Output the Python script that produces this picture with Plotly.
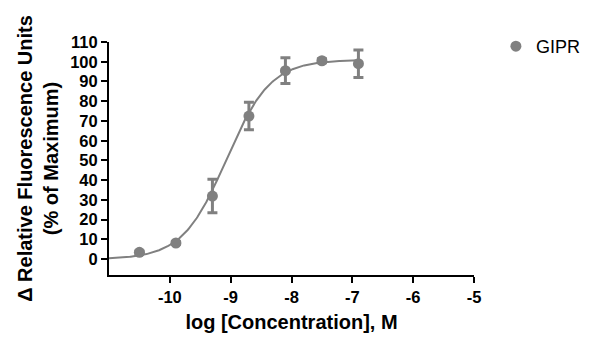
import numpy as np
import plotly.graph_objects as go

# Measured responses (mean ± SD) at each log concentration
log_conc = [-10.5, -9.9, -9.3, -8.7, -8.1, -7.5, -6.9]
response = [3.5, 8.2, 32.0, 72.5, 95.5, 100.5, 99.0]
resp_sd = [0.6, 0.6, 8.5, 7.0, 6.5, 1.0, 7.0]

# Four-parameter logistic fit parameters
fit_bottom = 0.0
fit_top = 101.0
fit_log_ec50 = -9.07
fit_hill = 1.2

x_ticks = [-10, -9, -8, -7, -6, -5]
y_ticks = list(range(0, 111, 10))

grey = "#808080"
font_family = "Liberation Sans, Arial, sans-serif"

x_fit = np.linspace(-11, -6.9, 300)
y_fit = fit_bottom + (fit_top - fit_bottom) / (1 + 10 ** ((fit_log_ec50 - x_fit) * fit_hill))

fig = go.Figure()
fig.add_trace(go.Scatter(
    x=x_fit, y=y_fit, mode="lines",
    line=dict(color=grey, width=2), showlegend=False, hoverinfo="skip",
))
fig.add_trace(go.Scatter(
    x=log_conc, y=response, mode="markers", name="GIPR",
    marker=dict(color=grey, size=11, symbol="circle"),
    error_y=dict(type="data", array=resp_sd, visible=True, color=grey, thickness=3, width=5),
))

fig.update_layout(
    width=600, height=349,
    margin=dict(l=109, r=126, t=42, b=74),
    plot_bgcolor="white", paper_bgcolor="white",
    font=dict(family=font_family, color="black"),
    legend=dict(x=1.06, y=1.06, xanchor="left", yanchor="top",
                font=dict(size=18, family=font_family, color="black"),
                bgcolor="rgba(0,0,0,0)"),
)
fig.update_xaxes(
    range=[-11, -5], tickvals=x_ticks, ticktext=[str(v) for v in x_ticks],
    showline=True, linecolor="black", linewidth=2, showgrid=False, zeroline=False,
    ticks="outside", ticklen=6, tickwidth=2, tickcolor="black",
    tickfont=dict(size=16.5, family=font_family, weight="bold"),
    title=dict(text="<b>log [Concentration], M</b>", font=dict(size=20), standoff=10),
)
fig.update_yaxes(
    range=[-8, 110], tickvals=y_ticks,
    showline=True, linecolor="black", linewidth=2, showgrid=False, zeroline=False,
    ticks="outside", ticklen=6, tickwidth=2, tickcolor="black",
    tickfont=dict(size=16.5, family=font_family, weight="bold"),
    title=dict(text="<b>Δ Relative Fluorescence Units<br>(% of Maximum)</b>", font=dict(size=20), standoff=6),
)

fig.write_html("out.html")
